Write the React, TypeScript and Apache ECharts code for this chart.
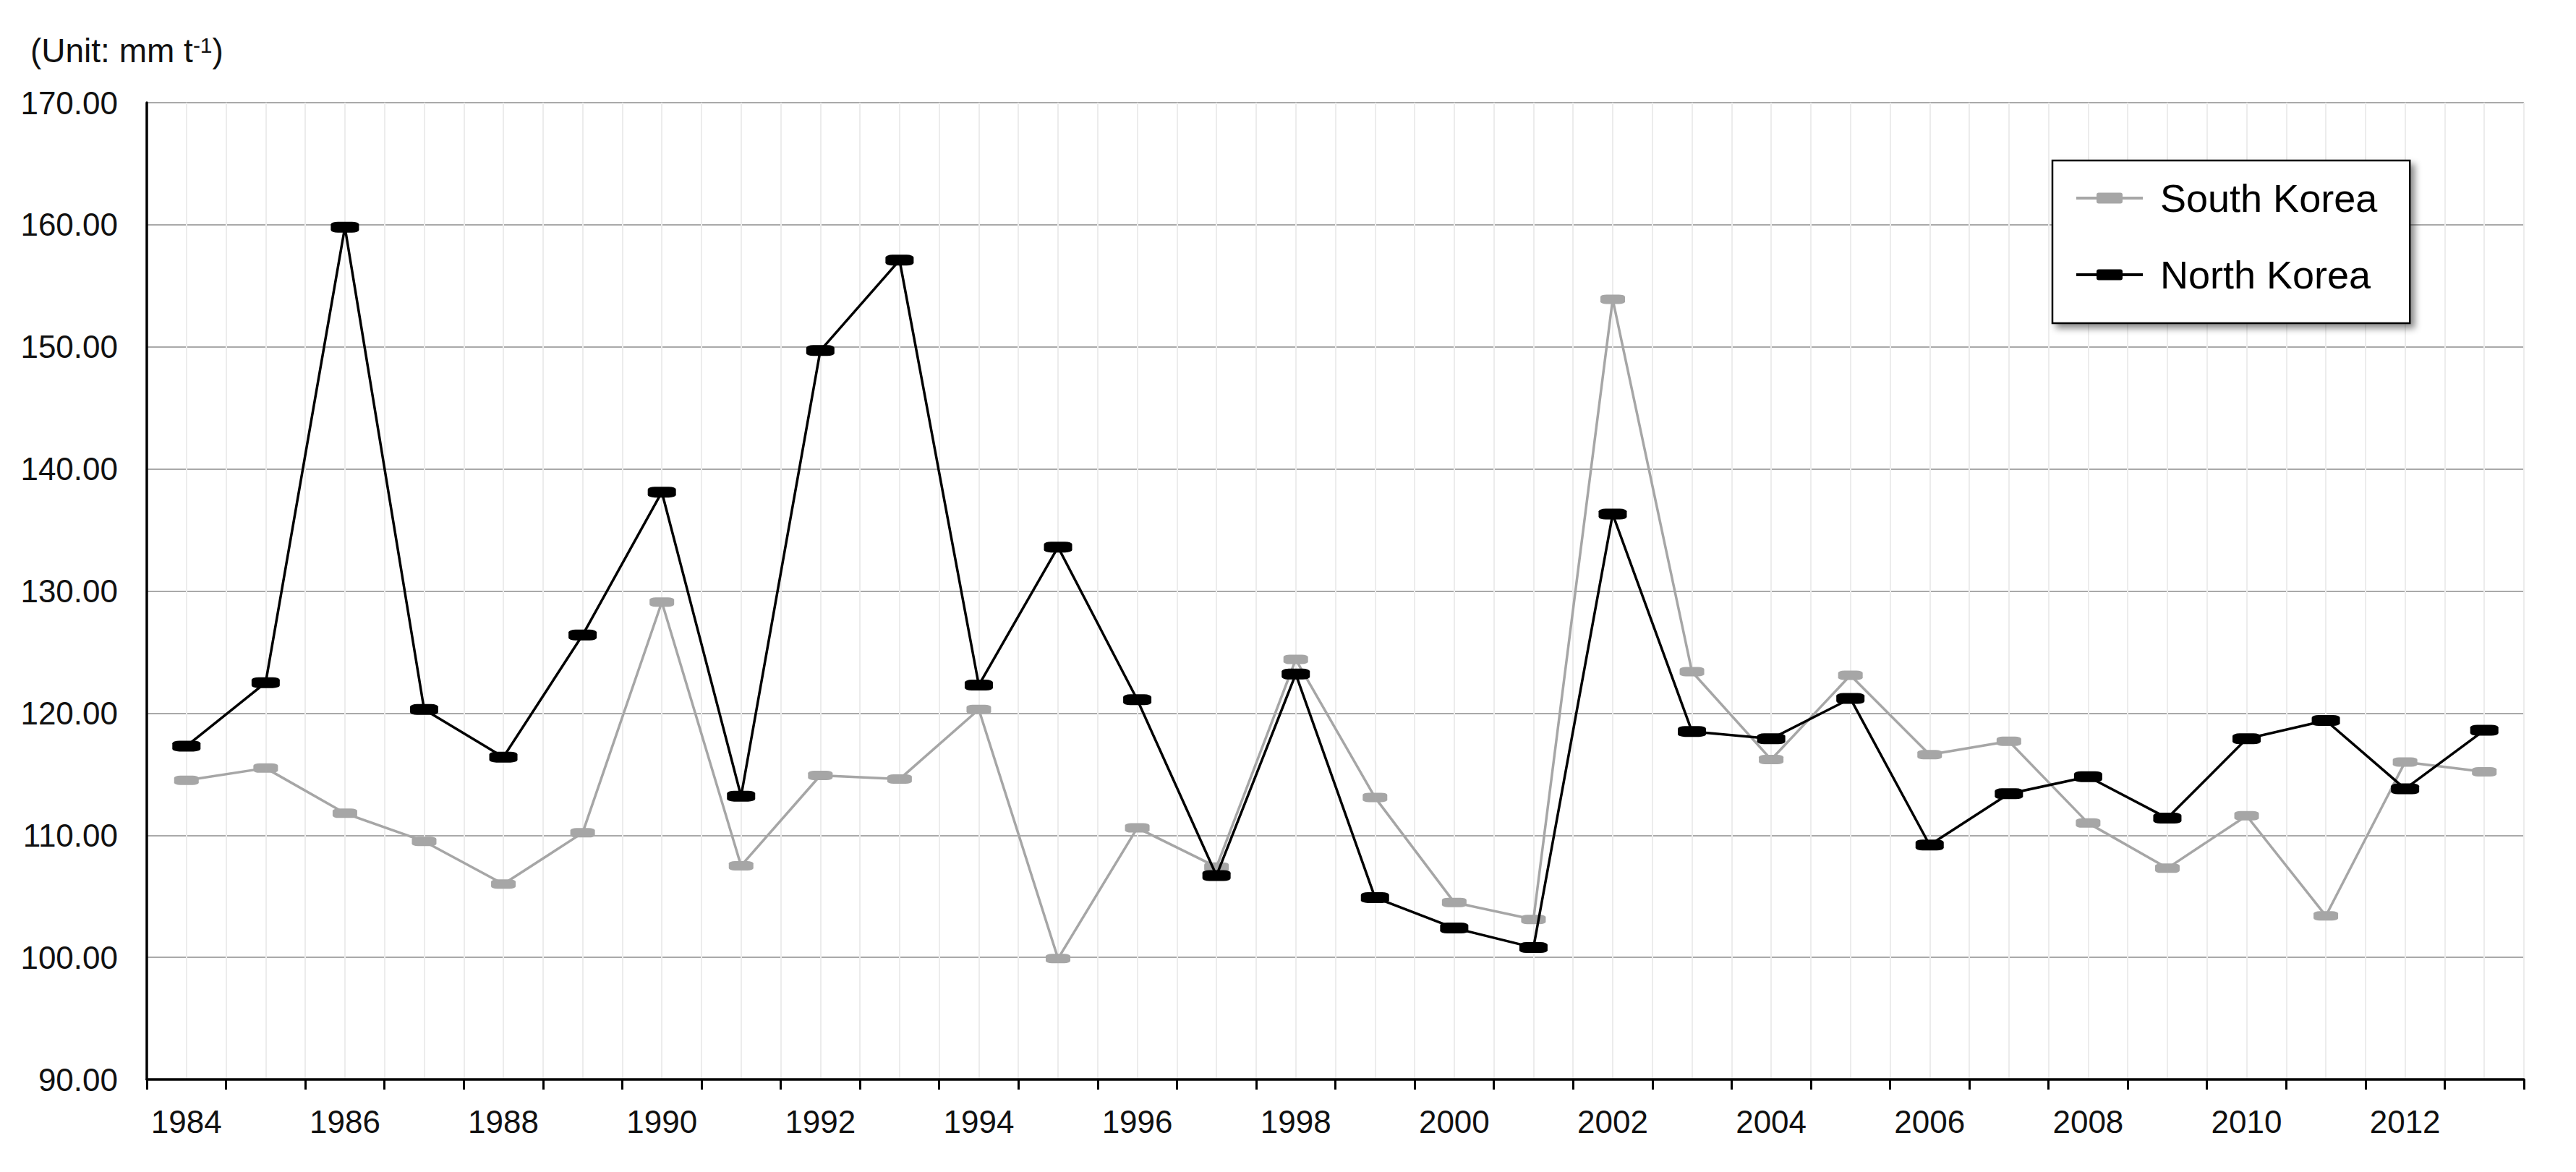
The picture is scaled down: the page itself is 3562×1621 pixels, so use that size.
import React, { useEffect, useRef } from 'react';
import * as echarts from 'echarts';

const FONT = '"Liberation Sans", Arial, Helvetica, sans-serif';

const years = [
  '1984', '1985', '1986', '1987', '1988', '1989', '1990', '1991', '1992', '1993',
  '1994', '1995', '1996', '1997', '1998', '1999', '2000', '2001', '2002', '2003',
  '2004', '2005', '2006', '2007', '2008', '2009', '2010', '2011', '2012', '2013',
];

const southKorea = [
  114.5, 115.5, 111.8, 109.5, 106.0, 110.2, 129.1, 107.5, 114.9, 114.6,
  120.3, 99.9, 110.6, 107.4, 124.4, 113.1, 104.5, 103.1, 153.9, 123.4,
  116.2, 123.1, 116.6, 117.7, 111.0, 107.3, 111.6, 103.4, 116.0, 115.2,
];

const northKorea = [
  117.3, 122.5, 159.8, 120.3, 116.4, 126.4, 138.1, 113.2, 149.7, 157.1,
  122.3, 133.6, 121.1, 106.7, 123.2, 104.9, 102.4, 100.8, 136.3, 118.5,
  117.9, 121.2, 109.2, 113.4, 114.8, 111.4, 117.9, 119.4, 113.8, 118.6,
];

const seriesNames = ['South Korea', 'North Korea'];
const yTicks = { min: 90, max: 170, interval: 10 };
const unitLabel = '(Unit: mm t{sup|-1})';

const LEGEND_ICON =
  'path://M0,5.5H92V9.5H0Z M31,0H61A3,3,0,0,1,64,3V12A3,3,0,0,1,61,15H31A3,3,0,0,1,28,12V3A3,3,0,0,1,31,0Z';

export default function App() {
  const ref = useRef<HTMLDivElement>(null);

  useEffect(() => {
    if (!ref.current) return;
    const chart = echarts.init(ref.current, undefined, { renderer: 'svg' });
    const option: any = {
      animation: false,
      backgroundColor: '#ffffff',
      textStyle: { fontFamily: FONT },
      grid: { left: 203, right: 72, top: 142, bottom: 128, containLabel: false },
      xAxis: [
        {
          type: 'category',
          data: years,
          boundaryGap: true,
          axisLine: { show: true, lineStyle: { color: '#000', width: 3.5 } },
          axisTick: { show: true, interval: 0, length: 14, lineStyle: { color: '#000', width: 3 } },
          axisLabel: { interval: 1, fontSize: 44, color: '#111', margin: 36, fontFamily: FONT },
          splitLine: { show: false },
        },
        {
          type: 'value',
          min: 0,
          max: years.length * 2,
          interval: 1,
          position: 'bottom',
          axisLine: { show: false },
          axisTick: { show: false },
          axisLabel: { show: false },
          splitLine: { show: true, lineStyle: { color: '#ececec', width: 2 } },
        },
      ],
      yAxis: {
        type: 'value',
        min: yTicks.min,
        max: yTicks.max,
        interval: yTicks.interval,
        axisLine: { show: true, lineStyle: { color: '#000', width: 3.5 } },
        axisTick: { show: false },
        axisLabel: {
          fontSize: 44,
          color: '#111',
          margin: 40,
          fontFamily: FONT,
          formatter: (v: number) => v.toFixed(2),
        },
        splitLine: { show: true, lineStyle: { color: '#a9a9a9', width: 2 } },
      },
      legend: {
        orient: 'vertical',
        left: 2838,
        top: 222,
        padding: [25, 45, 40, 33],
        itemGap: 52,
        itemWidth: 92,
        itemHeight: 15,
        icon: LEGEND_ICON,
        backgroundColor: '#ffffff',
        borderColor: '#000',
        borderWidth: 2.5,
        shadowColor: 'rgba(0,0,0,0.45)',
        shadowBlur: 10,
        shadowOffsetX: 6,
        shadowOffsetY: 6,
        textStyle: { fontSize: 54, color: '#000', fontFamily: FONT, lineHeight: 54, padding: [0, 0, 0, 19] },
        data: seriesNames,
      },
      graphic: [
        {
          type: 'text',
          x: 42,
          y: 70,
          style: {
            text: unitLabel,
            fill: '#111',
            fontSize: 46,
            fontFamily: FONT,
            verticalAlign: 'middle',
            rich: {
              sup: { fontSize: 30, fontFamily: FONT, fill: '#111', verticalAlign: 'top' },
            },
          },
        },
      ],
      series: [
        {
          name: seriesNames[0],
          type: 'line',
          data: southKorea,
          xAxisIndex: 0,
          yAxisIndex: 0,
          showAllSymbol: true,
          symbol: 'roundRect',
          symbolSize: [34, 13],
          itemStyle: { color: '#a6a6a6' },
          lineStyle: { color: '#a6a6a6', width: 3.5 },
          z: 3,
        },
        {
          name: seriesNames[1],
          type: 'line',
          data: northKorea,
          xAxisIndex: 0,
          yAxisIndex: 0,
          showAllSymbol: true,
          symbol: 'roundRect',
          symbolSize: [39, 15],
          itemStyle: { color: '#000000' },
          lineStyle: { color: '#000000', width: 3.5 },
          z: 4,
        },
      ],
    };
    chart.setOption(option);
    return () => chart.dispose();
  }, []);

  return (
    <div
      ref={ref}
      style={{ position: 'absolute', left: 0, top: 0, width: 3562, height: 1621, background: '#fff' }}
    />
  );
}
